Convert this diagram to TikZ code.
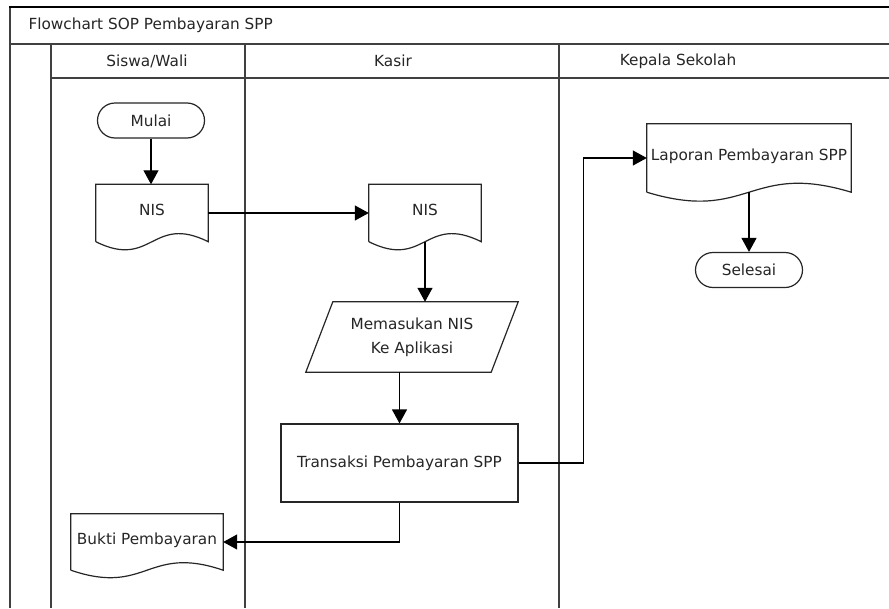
\documentclass[tikz,border=0pt]{standalone}
\usepackage{fontspec}
\setmainfont{DejaVu Sans}
\usetikzlibrary{arrows.meta,shapes.misc,calc}
\newcommand\docoutline[2]{\draw[shapeline] (#1.south west) -- (#1.north west) -- (#1.north east) -- (#1.south east) .. controls ($(#1.south)+(0,-#2)$) and ($(#1.south)+(0,#2)$) .. (#1.south west);}
\begin{document}
\begin{tikzpicture}[x=1pt,y=-1pt,
  every node/.style={font=\fontsize{15.3}{24}\selectfont, text=black!85},
  frame/.style={draw=black!75, line width=1.2pt},
  shapeline/.style={draw=black!85, line width=1.2pt},
  term/.style={rounded rectangle, shapeline, minimum width=107pt, minimum height=35pt, inner sep=0pt},
  docbox/.style={rectangle, inner sep=0pt, text height=11pt, text depth=7pt},
  proc/.style={rectangle, shapeline, inner sep=0pt},
  flow/.style={draw=black, line width=1.2pt, -{Triangle[length=14pt,width=15pt]}},
]
\fill[white] (0,0) rectangle (889,608);
\useasboundingbox (0,0) rectangle (889,608);

% frame and swimlanes
\draw[frame] (10,7) -- (10,608);
\draw[frame] (10,44) -- (889,44);
\draw[frame] (51,78) -- (889,78);
\draw[frame] (51,44) -- (51,608);
\draw[frame] (245,44) -- (245,608);
\draw[frame] (559,44) -- (559,608);
\draw[draw=black, line width=2pt] (9,7) -- (889,7);

\node[anchor=west] (title) at (25,25) {Flowchart SOP Pembayaran SPP};
\node (h1) at (147,61) {Siswa/Wali};
\node (h2) at (393,61) {Kasir};
\node (h3) at (678,61) {Kepala Sekolah};

% nodes
\node[term] (mulai) at (151,120.5) {Mulai};
\node[docbox, minimum width=112pt, minimum height=57pt] (nis1) at (152,213) {NIS};
\docoutline{nis1}{28}
\node[docbox, minimum width=112pt, minimum height=57pt] (nis2) at (425,213) {NIS};
\docoutline{nis2}{28}
\node[rectangle, inner sep=0pt, minimum width=185pt, minimum height=70pt, align=center] (inp) at (412,337) {Memasukan NIS\\Ke Aplikasi};
\draw[shapeline] ($(inp.north west)+(13.5,0)$) -- ($(inp.north east)+(13.5,0)$) -- ($(inp.south east)+(-13.5,0)$) -- ($(inp.south west)+(-13.5,0)$) -- cycle;
\node[proc, minimum width=237pt, minimum height=78pt] (trans) at (399.5,463) {Transaksi Pembayaran SPP};
\node[docbox, minimum width=204pt, minimum height=68pt] (lap) at (749,158) {Laporan Pembayaran SPP};
\docoutline{lap}{31}
\node[term] (sel) at (749,270) {Selesai};
\node[docbox, minimum width=152pt, minimum height=56pt] (bukti) at (147,542) {Bukti Pembayaran};
\docoutline{bukti}{26}

% connectors
\draw[flow] (mulai.south) -- (mulai.south |- nis1.north);
\draw[flow] (nis1.east) -- (nis2.west);
\draw[flow] (nis2.south) -- (nis2.south |- inp.north);
\draw[flow] (trans.north |- inp.south) -- (trans.north);
\draw[flow] (trans.east) -- ++(65,0) |- (lap.west);
\draw[flow] (trans.south) |- (bukti.east);
\draw[flow] (lap.south) -- (sel.north);
\end{tikzpicture}
\end{document}
